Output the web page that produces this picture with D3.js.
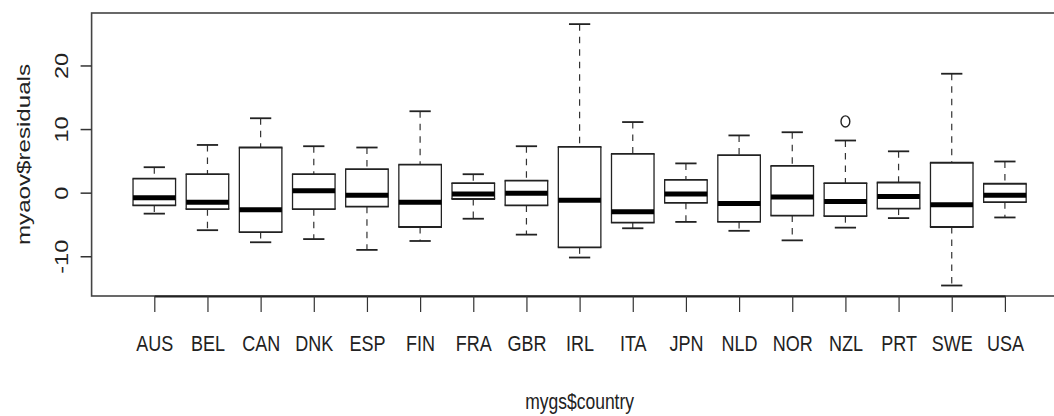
<!DOCTYPE html>
<html>
<head>
<meta charset="utf-8">
<script src="https://cdn.jsdelivr.net/npm/d3@7"></script>
<style>
  body { margin: 0; background: #fff; }
  svg { display: block; }
  text { font-family: "Liberation Sans", Arial, Helvetica, sans-serif; fill: #222; }
</style>
</head>
<body>
<svg id="chart" width="1054" height="416"></svg>
<script>
// boxplot summaries
const countries = ["AUS", "BEL", "CAN", "DNK", "ESP", "FIN", "FRA", "GBR", "IRL",
                   "ITA", "JPN", "NLD", "NOR", "NZL", "PRT", "SWE", "USA"];
const whiskerLow  = [-3.3, -5.9, -7.8, -7.3, -9.0, -7.6, -4.1, -6.6, -10.2, -5.6, -4.6, -6.0, -7.5, -5.5, -4.0, -14.6, -3.9];
const q1          = [-2.0, -2.6, -6.2, -2.6, -2.2, -5.4, -1.0, -2.0, -8.6, -4.7, -1.6, -4.6, -3.6, -3.7, -2.5, -5.4, -1.5];
const medians     = [-0.8, -1.5, -2.7, 0.3, -0.4, -1.5, -0.2, -0.1, -1.2, -3.0, -0.2, -1.7, -0.7, -1.4, -0.6, -1.9, -0.4];
const q3          = [2.2, 2.9, 7.1, 2.9, 3.7, 4.4, 1.5, 1.9, 7.2, 6.1, 2.0, 5.9, 4.2, 1.5, 1.6, 4.7, 1.4];
const whiskerHigh = [4.0, 7.5, 11.7, 7.3, 7.1, 12.8, 2.9, 7.3, 26.5, 11.1, 4.6, 9.0, 9.5, 8.2, 6.5, 18.7, 4.9];
const outlierCountry = ["NZL"];
const outlierValue   = [11.2];
const yTicks = [-10, 0, 10, 20];

const svg = d3.select("#chart");
const ink = "#222";
const stretch = 1.27;  // the picture is stretched vertically

const frame = { left: 91.6, right: 1067.6, top: 13, bottom: 296 };

const x = d3.scalePoint()
    .domain(countries)
    .range([154.3, 1004.9]);
const step = x.step();
const boxW = step * 0.8;

const y = d3.scaleLinear()
    .domain([-16.25, 28.25])
    .range([frame.bottom, frame.top]);

// plot frame
svg.append("rect")
    .attr("x", frame.left)
    .attr("y", frame.top)
    .attr("width", frame.right - frame.left)
    .attr("height", frame.bottom - frame.top)
    .attr("fill", "none")
    .attr("stroke", "#444")
    .attr("stroke-width", 1.6);

const rows = countries.map((c, i) => ({
    c: c, lo: whiskerLow[i], q1: q1[i], med: medians[i], q3: q3[i], hi: whiskerHigh[i]
}));

const g = svg.append("g");
const box = g.selectAll(".box").data(rows).enter().append("g")
    .attr("class", "box")
    .attr("transform", d => "translate(" + x(d.c) + ",0)");

// dashed whiskers
box.append("line")
    .attr("y1", d => y(d.hi)).attr("y2", d => y(d.q3))
    .attr("stroke", "#333").attr("stroke-width", 1.2)
    .attr("stroke-dasharray", "6.5,6");
box.append("line")
    .attr("y1", d => y(d.q1)).attr("y2", d => y(d.lo))
    .attr("stroke", "#333").attr("stroke-width", 1.2)
    .attr("stroke-dasharray", "6.5,6");

// staples
["hi", "lo"].forEach(k => {
    box.append("line")
        .attr("x1", -boxW / 4).attr("x2", boxW / 4)
        .attr("y1", d => y(d[k])).attr("y2", d => y(d[k]))
        .attr("stroke", ink).attr("stroke-width", 1.8);
});

// boxes: sides thinner than top/bottom
box.append("rect")
    .attr("x", -boxW / 2)
    .attr("y", d => y(d.q3))
    .attr("width", boxW)
    .attr("height", d => y(d.q1) - y(d.q3))
    .attr("fill", "#fff")
    .attr("stroke", "none");
["q3", "q1"].forEach(k => {
    box.append("line")
        .attr("x1", -boxW / 2 - 0.6).attr("x2", boxW / 2 + 0.6)
        .attr("y1", d => y(d[k])).attr("y2", d => y(d[k]))
        .attr("stroke", ink).attr("stroke-width", 1.8);
});
[-1, 1].forEach(s => {
    box.append("line")
        .attr("x1", s * boxW / 2).attr("x2", s * boxW / 2)
        .attr("y1", d => y(d.q3)).attr("y2", d => y(d.q1))
        .attr("stroke", ink).attr("stroke-width", 1.3);
});

// medians
box.append("line")
    .attr("x1", -boxW / 2).attr("x2", boxW / 2)
    .attr("y1", d => y(d.med)).attr("y2", d => y(d.med))
    .attr("stroke", "#000").attr("stroke-width", 5);

// outliers
g.selectAll(".out").data(outlierCountry.map((c, i) => ({ c: c, v: outlierValue[i] })))
    .enter().append("ellipse")
    .attr("cx", d => x(d.c))
    .attr("cy", d => y(d.v))
    .attr("rx", 4.4).attr("ry", 5.6)
    .attr("fill", "none").attr("stroke", ink).attr("stroke-width", 1.4);

// x axis
const xAxis = svg.append("g")
    .attr("transform", "translate(0," + frame.bottom + ")")
    .call(d3.axisBottom(x).tickSize(16).tickSizeOuter(0).tickPadding(0));
xAxis.select(".domain").attr("stroke", ink).attr("stroke-width", 2.2);
xAxis.selectAll(".tick line").attr("stroke", "#333").attr("stroke-width", 1.2);
xAxis.selectAll(".tick text")
    .attr("y", 0).attr("dy", 0)
    .attr("transform", "translate(0,55) scale(1," + stretch + ")")
    .style("font-size", "18px")
    .attr("fill", ink);

// y axis, plain hyphen for negatives as in R
const yAxis = svg.append("g")
    .attr("transform", "translate(" + frame.left + ",0)")
    .call(d3.axisLeft(y).tickValues(yTicks).tickFormat(d => String(d)).tickSize(11).tickSizeOuter(0));
yAxis.select(".domain").remove();
yAxis.selectAll(".tick line").attr("stroke", "#333").attr("stroke-width", 1.5);
yAxis.selectAll(".tick text")
    .attr("x", 0).attr("dy", 0)
    .attr("text-anchor", "middle")
    .attr("transform", "translate(-23.3,0) rotate(-90) scale(" + stretch + ",1)")
    .style("font-size", "18.5px")
    .attr("fill", ink);

// axis titles
svg.append("text")
    .attr("text-anchor", "middle")
    .attr("transform", "translate(" + ((frame.left + frame.right) / 2) + ",409) scale(1," + stretch + ")")
    .style("font-size", "17.5px")
    .text("mygs$country");

svg.append("text")
    .attr("text-anchor", "middle")
    .attr("transform", "translate(30," + ((frame.top + frame.bottom) / 2) + ") rotate(-90) scale(" + stretch + ",1)")
    .style("font-size", "19px")
    .text("myaov$residuals");
</script>
</body>
</html>
